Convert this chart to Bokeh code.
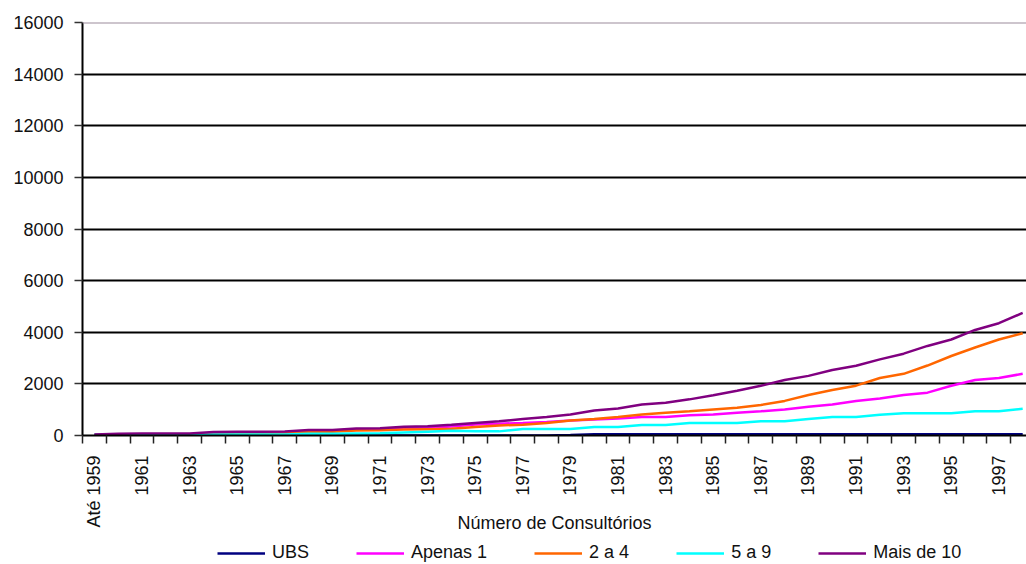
import math
from bokeh.plotting import figure
from bokeh.layouts import column
from bokeh.models import (Range1d, FixedTicker, Legend, LegendItem, Span,
                          ColumnDataSource)
from bokeh.embed import file_html
from bokeh.resources import INLINE

categories = ["Até 1959", "1960", "1961", "1962", "1963", "1964", "1965", "1966",
              "1967", "1968", "1969", "1970", "1971", "1972", "1973", "1974",
              "1975", "1976", "1977", "1978", "1979", "1980", "1981", "1982",
              "1983", "1984", "1985", "1986", "1987", "1988", "1989", "1990",
              "1991", "1992", "1993", "1994", "1995", "1996", "1997", "1998"]

ubs = [0, 0, 0, 0, 0, 0, 0, 0, 0, 0, 0, 0, 0, 0, 0, 0, 0, 0, 0, 0,
       20, 50, 50, 50, 50, 50, 50, 50, 50, 50, 50, 50, 50, 50, 50, 50, 50, 50, 50, 50]
apenas_1 = [20, 30, 35, 35, 40, 80, 85, 90, 95, 150, 160, 220, 230, 280, 300, 350,
            430, 460, 485, 525, 580, 615, 655, 720, 720, 785, 810, 880, 940, 1010,
            1110, 1200, 1340, 1430, 1570, 1660, 1930, 2150, 2230, 2390]
dois_a_quatro = [20, 30, 35, 35, 40, 70, 75, 80, 90, 140, 150, 190, 200, 230, 245, 260,
                 330, 390, 420, 485, 580, 640, 720, 810, 880, 940, 1010, 1075, 1180, 1340,
                 1570, 1760, 1930, 2230, 2390, 2710, 3080, 3410, 3720, 3960]
cinco_a_nove = [30, 30, 30, 30, 30, 40, 40, 40, 40, 70, 70, 80, 90, 120, 150, 180,
                160, 160, 250, 250, 250, 330, 330, 405, 405, 485, 485, 485, 550, 550,
                640, 720, 720, 800, 865, 865, 865, 940, 940, 1035]
mais_de_10 = [40, 70, 75, 75, 80, 140, 145, 150, 155, 210, 215, 270, 280, 340, 360, 420,
              485, 550, 640, 720, 810, 970, 1050, 1200, 1270, 1400, 1560, 1730, 1930, 2150,
              2310, 2540, 2700, 2950, 3170, 3470, 3720, 4090, 4350, 4750]

series_names = ["UBS", "Apenas 1", "2 a 4", "5 a 9", "Mais de 10"]
series_values = [ubs, apenas_1, dois_a_quatro, cinco_a_nove, mais_de_10]
series_colors = ["#000080", "#FF00FF", "#FF6600", "#00FFFF", "#800080"]
y_ticks = [0, 2000, 4000, 6000, 8000, 10000, 12000, 14000, 16000]
x_title = "Número de Consultórios"

FONT = "Liberation Sans"
TXT = "#111111"

x_idx = list(range(len(categories)))

p = figure(frame_width=944, frame_height=413,
           x_range=Range1d(-0.5, 39.16), y_range=Range1d(0, 16000),
           output_backend="svg", toolbar_location=None,
           min_border_left=82, min_border_top=22, min_border_right=0,
           min_border_bottom=95)
p.outline_line_color = None
p.background_fill_color = "white"
p.border_fill_color = "white"

# grid
p.xgrid.visible = False
p.ygrid.ticker = FixedTicker(ticks=y_ticks[1:-1])
p.ygrid.grid_line_color = "black"
p.ygrid.grid_line_width = 2
p.add_layout(Span(location=y_ticks[-1], dimension="width", line_color="#9c8c9c",
                  line_width=2))

# y axis
p.yaxis.ticker = FixedTicker(ticks=y_ticks)
p.yaxis.axis_line_color = "black"
p.yaxis.axis_line_width = 2
p.yaxis.major_tick_line_color = "#333333"
p.yaxis.major_tick_line_width = 1.5
p.yaxis.major_tick_out = 8
p.yaxis.major_tick_in = 0
p.yaxis.minor_tick_line_color = None
p.yaxis.major_label_standoff = 11
p.yaxis.major_label_text_font = FONT
p.yaxis.major_label_text_font_size = "18px"
p.yaxis.major_label_text_color = TXT

# x axis
label_pos = x_idx[:-1:2]
p.xaxis.ticker = FixedTicker(ticks=label_pos,
                             minor_ticks=[i - 0.5 for i in range(len(categories) + 1)])
p.xaxis.major_label_overrides = {i: categories[i] for i in label_pos}
p.xaxis.major_label_orientation = math.pi / 2
p.xaxis.axis_line_color = "black"
p.xaxis.axis_line_width = 2
p.xaxis.major_tick_line_color = None
p.xaxis.major_tick_out = 8
p.xaxis.minor_tick_line_color = "#222222"
p.xaxis.minor_tick_line_width = 1.5
p.xaxis.minor_tick_out = 8
p.xaxis.minor_tick_in = 0
p.xaxis.major_label_standoff = 12
p.xaxis.major_label_text_font = FONT
p.xaxis.major_label_text_font_size = "18px"
p.xaxis.major_label_text_color = TXT
p.xaxis.axis_label = x_title
p.xaxis.axis_label_text_font = FONT
p.xaxis.axis_label_text_font_size = "18px"
p.xaxis.axis_label_text_font_style = "normal"
p.xaxis.axis_label_text_color = TXT
p.xaxis.axis_label_standoff = -18

# lines
for name, vals, col in zip(series_names, series_values, series_colors):
    src = ColumnDataSource(dict(x=x_idx, y=vals))
    p.line("x", "y", source=src, line_color=col, line_width=2.5)

# legend strip below the chart (separate small figure, no axes);
# its frame is aligned with the chart frame by the column layout
lg = figure(frame_width=944, height=30,
            x_range=Range1d(-0.5, 39.16), y_range=Range1d(-2000000, -1000000),
            x_axis_location=None, y_axis_location=None,
            output_backend="svg", toolbar_location=None,
            min_border_left=82, min_border_right=0, min_border_top=0,
            min_border_bottom=0)
lg.grid.visible = False
lg.outline_line_color = None
lg.border_fill_color = "white"
lg.background_fill_color = "white"
leg_renderers = []
for name, vals, col in zip(series_names, series_values, series_colors):
    src = ColumnDataSource(dict(x=x_idx, y=vals))
    r = lg.line("x", "y", source=src, line_color=col, line_width=2.5)
    leg_renderers.append(r)

legend = Legend(items=[LegendItem(label=n, renderers=[r])
                       for n, r in zip(series_names, leg_renderers)],
                location=(135, 2), orientation="horizontal",
                padding=0, margin=0, spacing=47,
                glyph_width=48, glyph_height=20, label_height=20,
                label_standoff=7, border_line_color=None,
                background_fill_alpha=0, label_text_font=FONT,
                label_text_font_size="18px", label_text_color=TXT)
lg.add_layout(legend)

layout = column(p, lg, spacing=0)
open("out.html", "w").write(file_html(layout, INLINE))
